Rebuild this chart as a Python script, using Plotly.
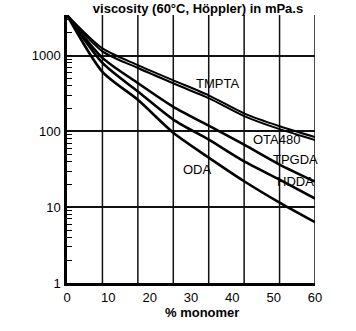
import math
import plotly.graph_objects as go

# % monomer positions where values were read (grid spacing 60/7)
x_pts = [0, 8.57, 17.14, 25.71, 34.29, 42.86, 51.43, 60]

tmpta  = [3430, 1243, 749, 471, 299, 173, 117, 84]
ota480 = [3430, 1138, 686, 432, 274, 159, 107, 77]
tpgda  = [3430, 933, 434, 211, 119, 66.8, 36.5, 21.7]
hdda   = [3430, 801, 336, 143, 77.8, 40.3, 23.1, 13.0]
oda    = [3430, 611, 261, 96, 45.1, 22.0, 11.5, 6.35]

series = [("TMPTA", tmpta), ("OTA480", ota480), ("TPGDA", tpgda),
          ("HDDA", hdda), ("ODA", oda)]

x_ticks = [0, 10, 20, 30, 40, 50, 60]
y_ticks = [1, 10, 100, 1000]
y_tick_text = ["1", "10", "100", "1000"]
v_grid = [60 * k / 7 for k in range(1, 8)]

# label positions (x in %, y in mPa.s)
labels = [("TMPTA", 36.3, 435), ("OTA480", 50.8, 78), ("TPGDA", 55.4, 43),
          ("HDDA", 55.2, 22), ("ODA", 31.5, 31.5)]

FONT = "Liberation Sans, Arial, sans-serif"

fig = go.Figure()
for name, vals in series:
    fig.add_trace(go.Scatter(
        x=x_pts, y=vals, mode="lines", name=name,
        line=dict(color="black", width=2.0 if name in ("TMPTA", "OTA480") else 2.6,
                  shape="spline", smoothing=0.7),
        showlegend=False, hoverinfo="skip"))

for gx in v_grid:
    fig.add_shape(type="line", xref="x", yref="paper", x0=gx, x1=gx, y0=0, y1=1,
                  line=dict(color="#111", width=1.5), layer="below")

for text, lx, ly in labels:
    fig.add_annotation(x=lx, y=math.log10(ly), xref="x", yref="y", text=text,
                       showarrow=False, xanchor="center", yanchor="middle",
                       font=dict(family=FONT, size=13, color="black"))

fig.add_annotation(x=0.543, y=-0.111, xref="paper", yref="paper",
                   text="<b>% monomer</b>", showarrow=False,
                   xanchor="center", yanchor="middle",
                   font=dict(family=FONT, size=13, color="black"))

fig.update_layout(
    width=356, height=331,
    margin=dict(l=66.7, r=41, t=15, b=47.7, pad=0),
    paper_bgcolor="white", plot_bgcolor="white",
    title=dict(text="<b>viscosity (60°C, Höppler) in mPa.s</b>", x=198 / 356, xanchor="center",
               y=1 - 8 / 331, yanchor="middle", xref="container", yref="container",
               font=dict(family=FONT, size=13, color="black")),
    font=dict(family=FONT, size=13, color="black"),
    xaxis=dict(range=[0, 60], tickvals=x_ticks, ticktext=[str(v) for v in x_ticks],
               showgrid=False, zeroline=False, showline=True, linecolor="black", linewidth=2.5,
               ticks="outside", ticklen=1, tickcolor="white", tickfont=dict(size=13)),
    yaxis=dict(type="log", range=[0, 3.5355], tickvals=y_ticks, ticktext=y_tick_text,
               showgrid=True, gridcolor="#111", gridwidth=1.5, zeroline=False,
               showline=True, linecolor="black", linewidth=2.5,
               ticks="outside", ticklen=1, tickcolor="white", tickfont=dict(size=13),
               minor=dict(ticks="inside", ticklen=5, tickwidth=1.2, tickcolor="black",
                          dtick="D1", showgrid=False)),
)

fig.write_html("out.html")
